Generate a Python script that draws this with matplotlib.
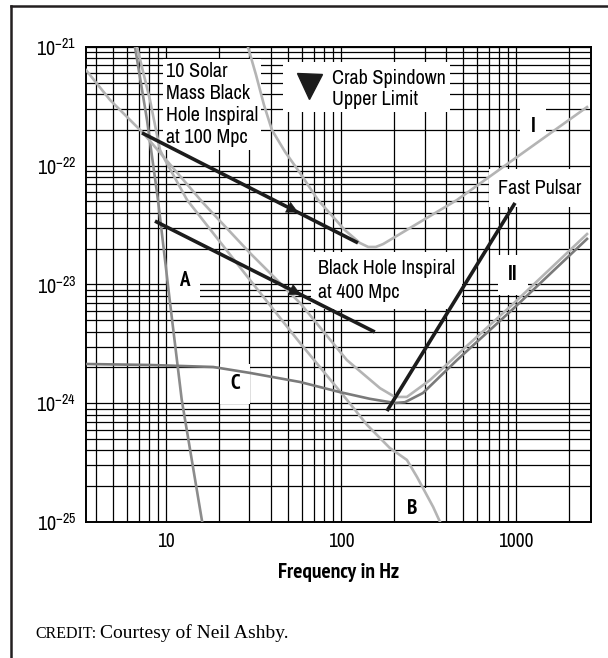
import matplotlib
matplotlib.use('Agg')
import matplotlib.pyplot as plt
import matplotlib.ticker as ticker
from matplotlib.lines import Line2D
from matplotlib.patches import Rectangle
import numpy as np

plt.rcParams['font.family'] = ['Archivo Narrow', 'IBM Plex Sans Condensed', 'DejaVu Sans']
plt.rcParams['mathtext.fontset'] = 'custom'
plt.rcParams['mathtext.rm'] = 'Archivo Narrow'
plt.rcParams['mathtext.default'] = 'regular'
BOLD = ['PT Sans Narrow', 'Fira Sans Condensed', 'DejaVu Sans']

# noise curves: frequency (Hz) and strain amplitude
I_freq = [29.4, 32.7, 36.3, 40.3, 47.9, 58.3, 73.9, 105, 128, 143, 158, 174, 283, 460, 961, 2545]
I_h = [1.0e-21, 5.81e-22, 3.25e-22, 2.0e-22, 1.31e-22, 8.69e-23, 5.15e-23, 2.88e-23,
       2.24e-23, 2.07e-23, 2.07e-23, 2.19e-23, 3.36e-23, 5.15e-23, 1.12e-22, 3.12e-22]

II_freq = [3.49, 4.79, 7.39, 16.3, 30.2, 58.3, 108, 167, 203, 238, 323, 460, 961, 2545]
II_h = [6.40e-22, 3.58e-22, 1.89e-22, 4.86e-23, 1.84e-23, 6.99e-24, 2.31e-24, 1.34e-24,
        1.13e-24, 1.13e-24, 1.57e-24, 2.55e-24, 6.85e-24, 2.66e-23]

A_freq = [6.65, 7.79, 9.0, 10.5, 12.3, 16.1]
A_h = [1e-21, 2.43e-22, 5.15e-23, 7.41e-24, 1.07e-24, 1e-25]

B_freq = [6.83, 8.10, 9.24, 9.87, 13.2, 30.2, 58.3, 108, 141, 190, 238, 272, 336, 368]
B_h = [1e-21, 3.58e-22, 1.36e-22, 1.12e-22, 5.15e-23, 1.09e-23, 3.22e-24, 1.07e-24,
       6.56e-25, 4.20e-25, 3.33e-25, 2.39e-25, 1.34e-25, 1e-25]

C_freq = [3.49, 8.10, 18.6, 30.2, 58.3, 98.7, 146, 203, 232, 294, 460, 961, 2545]
C_h = [2.14e-24, 2.10e-24, 2.02e-24, 1.80e-24, 1.51e-24, 1.24e-24, 1.09e-24, 1.005e-24,
       1.02e-24, 1.22e-24, 2.31e-24, 6.22e-24, 2.42e-23]

# sources
bh100_freq = [7.29, 125]
bh100_h = [1.89e-22, 2.24e-23]
bh400_freq = [8.65, 156]
bh400_h = [3.42e-23, 3.98e-24]
pulsar_freq = [183, 987]
pulsar_h = [8.60e-25, 4.86e-23]
crab_freq = [65.6]
crab_h = [4.69e-22]
arrow_freq = [57, 59]

x_ticks = [10, 100, 1000]
x_ticklabels = ['10', '100', '1000']
y_ticks = [1e-25, 1e-24, 1e-23, 1e-22, 1e-21]

light = '#b4b4b4'
mid = '#8c8c8c'
dark = '#7a7a7a'
ink = '#1c1c1c'

fig = plt.figure(figsize=(6.08, 6.58), dpi=100)
ax = fig.add_axes([0.1414, 0.2067, 0.8301, 0.7219])
ax.set_xscale('log')
ax.set_yscale('log')
ax.set_xlim(3.49, 2670)
ax.set_ylim(1e-25, 1e-21)

ax.xaxis.set_minor_locator(ticker.LogLocator(base=10, subs=range(2, 10)))
ax.yaxis.set_minor_locator(ticker.LogLocator(base=10, subs=range(2, 10)))
ax.xaxis.set_minor_formatter(ticker.NullFormatter())
ax.yaxis.set_minor_formatter(ticker.NullFormatter())
ax.set_xticks(x_ticks, labels=x_ticklabels)
ax.set_yticks(y_ticks)
ax.tick_params(which='both', length=0)
ax.tick_params(axis='x', pad=7, labelsize=14)
ax.tick_params(axis='y', pad=7, labelsize=14.5)
ax.set_axisbelow(True)
ax.grid(which='both', color='black', linewidth=0.9)
for s in ax.spines.values():
    s.set_linewidth(1.4)

# noise curves
ax.plot(A_freq, A_h, color=mid, lw=1.9, zorder=3)
ax.plot(B_freq, B_h, color=light, lw=1.9, zorder=3)
ax.plot(I_freq, I_h, color=light, lw=1.9, zorder=3)
ax.plot(C_freq, C_h, color=dark, lw=1.9, zorder=3)
ax.plot(II_freq, II_h, color=light, lw=1.9, zorder=3)

# sources
ax.plot(bh100_freq, bh100_h, color=ink, lw=2.6, solid_capstyle='butt', zorder=4)
ax.plot(bh400_freq, bh400_h, color=ink, lw=2.6, solid_capstyle='butt', zorder=4)
ax.plot(pulsar_freq, pulsar_h, color=ink, lw=2.6, solid_capstyle='butt', zorder=4)

for (fr, hh), fa in zip([(bh100_freq, bh100_h), (bh400_freq, bh400_h)], arrow_freq):
    lf, lh = np.log10(fr), np.log10(hh)
    tail = fa / 1.3
    ytip = 10 ** np.interp(np.log10(fa), lf, lh)
    ytail = 10 ** np.interp(np.log10(tail), lf, lh)
    ax.annotate('', xy=(fa, ytip), xytext=(tail, ytail),
                arrowprops=dict(arrowstyle='-|>,head_length=0.55,head_width=0.28', color=ink,
                                lw=0.5, mutation_scale=14, shrinkA=0, shrinkB=0), zorder=5)

# white box behind crab marker and text
ax.add_patch(Rectangle((0.390, 0.863), 0.331, 0.105, transform=ax.transAxes,
                       facecolor='white', edgecolor='none', zorder=2))
ax.plot(crab_freq, crab_h, marker='v', markersize=18, color=ink, linestyle='none', zorder=5)

box = dict(boxstyle='square,pad=0.15', facecolor='white', edgecolor='none')
ax.text(0.1585, 0.968, '10 Solar\nMass Black\nHole Inspiral\nat 100 Mpc', transform=ax.transAxes,
        fontsize=14.5, va='top', ha='left', linespacing=1.2, bbox=box, zorder=2)
ax.text(0.487, 0.954, 'Crab Spindown\nUpper Limit', transform=ax.transAxes,
        fontsize=14.5, va='top', ha='left', linespacing=1.15, zorder=2)
ax.text(0.816, 0.703, 'Fast Pulsar', transform=ax.transAxes, fontsize=14.5, va='center', ha='left',
        bbox=dict(boxstyle='square,pad=0.45', facecolor='white', edgecolor='none'), zorder=2)
ax.text(0.46, 0.509, 'Black Hole Inspiral\nat 400 Mpc', transform=ax.transAxes, fontsize=14.5,
        va='center', ha='left', linespacing=1.32,
        bbox=dict(boxstyle='square,pad=0.35', facecolor='white', edgecolor='none'), zorder=2)

lbox = dict(boxstyle='square,pad=0.5', facecolor='white', edgecolor='none')
for txt, xx, yy in [('I', 0.886, 0.832), ('II', 0.846, 0.520), ('A', 0.194, 0.509),
                    ('C', 0.295, 0.291), ('B', 0.646, 0.029)]:
    ax.text(xx, yy, txt, transform=ax.transAxes, fontsize=15, fontweight='bold', family=BOLD,
            ha='center', va='center', bbox=lbox, zorder=2)

ax.set_xlabel('Frequency in Hz', fontsize=15.5, fontweight='bold', family=BOLD, labelpad=9)

fig.text(0.0576, 0.030, 'CREDIT:', family='Liberation Serif', fontsize=11.5, va='baseline')
fig.text(0.1645, 0.030, 'Courtesy of Neil Ashby.', family='Liberation Serif', fontsize=14,
         va='baseline')

# frame of the figure panel
fig.add_artist(Line2D([0.018, 0.018], [0, 0.991], color='#231f20', lw=1.8))
fig.add_artist(Line2D([0.018, 1.0], [0.991, 0.991], color='#231f20', lw=1.8))

fig.savefig('out.png', dpi=100)
